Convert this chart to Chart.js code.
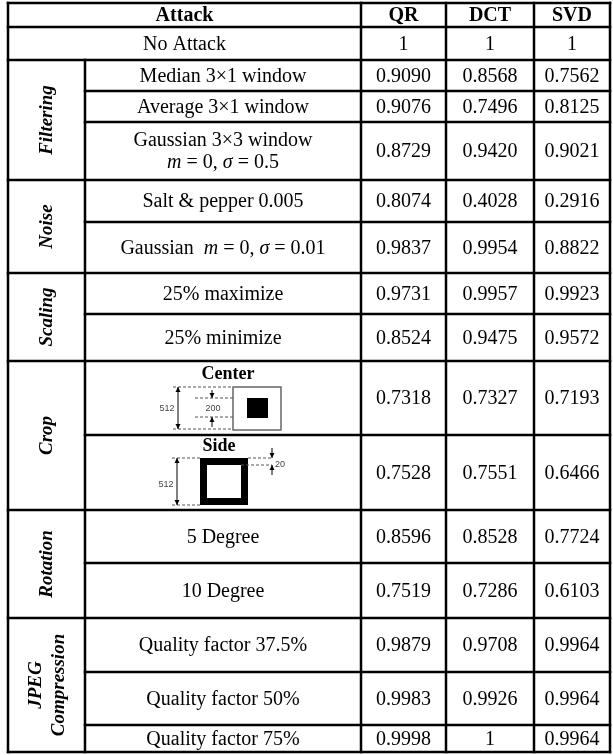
<!DOCTYPE html>
<html>
<head>
<meta charset="utf-8">
<script src="https://cdn.jsdelivr.net/npm/chart.js@4.4.0/dist/chart.umd.min.js"></script>
<style>
    html, body { margin: 0; padding: 0; background: #fff; }
    canvas { display: block; }
</style>
</head>
<body>
<canvas id="tableChart" width="613" height="755"></canvas>
<script>
// table data
const methods = ['QR', 'DCT', 'SVD'];
const groups = ['Filtering', 'Noise', 'Scaling', 'Crop', 'Rotation', 'JPEG|Compression'];
const groupSpans = [3, 2, 2, 2, 2, 3];
const attacks = [
    'No Attack',
    'Median 3×1 window',
    'Average 3×1 window',
    'Gaussian 3×3 window|*m* = 0, *σ* = 0.5',
    'Salt & pepper 0.005',
    'Gaussian  *m* = 0, *σ* = 0.01',
    '25% maximize',
    '25% minimize',
    'Center',
    'Side',
    '5 Degree',
    '10 Degree',
    'Quality factor 37.5%',
    'Quality factor 50%',
    'Quality factor 75%'
];
const qrValues  = [1, 0.9090, 0.9076, 0.8729, 0.8074, 0.9837, 0.9731, 0.8524, 0.7318, 0.7528, 0.8596, 0.7519, 0.9879, 0.9983, 0.9998];
const dctValues = [1, 0.8568, 0.7496, 0.9420, 0.4028, 0.9954, 0.9957, 0.9475, 0.7327, 0.7551, 0.8528, 0.7286, 0.9708, 0.9926, 1];
const svdValues = [1, 0.7562, 0.8125, 0.9021, 0.2916, 0.8822, 0.9923, 0.9572, 0.7193, 0.6466, 0.7724, 0.6103, 0.9964, 0.9964, 0.9964];

// grid layout (in scale units)
const colEdges = [8, 85, 361, 446, 534, 610];
const rowEdges = [3, 27, 60, 91, 122, 180, 222, 273, 314, 361, 435, 510, 563, 618, 672, 725, 752];

const SERIF = '"Liberation Serif", "Times New Roman", serif';

function fmt(v) {
    return v === 1 ? '1' : v.toFixed(4);
}

// draw text with *italic* parts, centred on cx
function richText(ctx, str, cx, cy, size) {
    const parts = str.split('*');
    let total = 0;
    const segs = parts.map((t, i) => {
        const font = (i % 2 ? 'italic ' : '') + size + 'px ' + SERIF;
        ctx.font = font;
        const w = ctx.measureText(t).width;
        total += w;
        return { t, font, w };
    });
    let x = cx - total / 2;
    ctx.textAlign = 'left';
    segs.forEach(s => {
        ctx.font = s.font;
        ctx.fillText(s.t, x, cy);
        x += s.w;
    });
}

function arrowHead(ctx, x, y, dir) {
    ctx.beginPath();
    ctx.moveTo(x, y);
    ctx.lineTo(x - 2.5, y - 5 * dir);
    ctx.lineTo(x + 2.5, y - 5 * dir);
    ctx.closePath();
    ctx.fill();
}

function vArrow(ctx, x, y1, y2, both) {
    ctx.setLineDash([]);
    ctx.lineWidth = 1;
    ctx.beginPath();
    ctx.moveTo(x, y1);
    ctx.lineTo(x, y2);
    ctx.stroke();
    arrowHead(ctx, x, y2, y2 > y1 ? 1 : -1);
    if (both) arrowHead(ctx, x, y1, y2 > y1 ? -1 : 1);
}

function dash(ctx, x1, x2, y) {
    ctx.setLineDash([3, 2]);
    ctx.lineWidth = 1;
    ctx.strokeStyle = '#555';
    ctx.beginPath();
    ctx.moveTo(x1, y);
    ctx.lineTo(x2, y);
    ctx.stroke();
    ctx.setLineDash([]);
    ctx.strokeStyle = '#000';
}

function smallLabel(ctx, t, x, y) {
    ctx.font = '9px "Liberation Sans", Arial, sans-serif';
    ctx.fillStyle = '#444';
    ctx.textAlign = 'center';
    ctx.fillText(t, x, y);
    ctx.fillStyle = '#000';
}

function drawCenterCrop(ctx, cx, top) {
    ctx.font = 'bold 18px ' + SERIF;
    ctx.textAlign = 'center';
    ctx.fillText('Center', cx + 5, top + 13);
    dash(ctx, cx - 50, cx + 10, top + 26);
    dash(ctx, cx - 50, cx + 10, top + 68);
    dash(ctx, cx - 28, cx + 10, top + 37);
    dash(ctx, cx - 28, cx + 10, top + 56);
    vArrow(ctx, cx - 45, top + 26, top + 68, true);
    vArrow(ctx, cx - 11, top + 29, top + 37, false);
    vArrow(ctx, cx - 11, top + 66, top + 56, false);
    smallLabel(ctx, '512', cx - 56, top + 48);
    smallLabel(ctx, '200', cx - 10, top + 48);
    ctx.strokeStyle = '#666';
    ctx.lineWidth = 1.5;
    ctx.strokeRect(cx + 10, top + 26, 48, 43);
    ctx.strokeStyle = '#000';
    ctx.fillRect(cx + 24, top + 37, 21, 20);
}

function drawSideCrop(ctx, cx, top) {
    ctx.font = 'bold 18px ' + SERIF;
    ctx.textAlign = 'center';
    ctx.fillText('Side', cx - 4, top + 11);
    ctx.fillRect(cx - 23, top + 23, 48, 47);
    ctx.fillStyle = '#fff';
    ctx.fillRect(cx - 16, top + 30, 34, 33);
    ctx.fillStyle = '#000';
    dash(ctx, cx - 51, cx - 23, top + 23);
    dash(ctx, cx - 51, cx - 23, top + 70);
    dash(ctx, cx + 25, cx + 49, top + 23);
    dash(ctx, cx + 18, cx + 49, top + 30);
    vArrow(ctx, cx - 46, top + 23, top + 70, true);
    vArrow(ctx, cx + 49, top + 13, top + 23, false);
    vArrow(ctx, cx + 49, top + 40, top + 30, false);
    smallLabel(ctx, '512', cx - 57, top + 50);
    smallLabel(ctx, '20', cx + 57, top + 30);
}

const tablePlugin = {
    id: 'tablePlugin',
    afterDraw(chart) {
        const ctx = chart.ctx;
        const xs = chart.scales.x, ys = chart.scales.y;
        const X = colEdges.map(v => xs.getPixelForValue(v));
        const Y = rowEdges.map(v => ys.getPixelForValue(v));
        const midY = i => (Y[i] + Y[i + 1]) / 2;
        const midX = (a, b) => (X[a] + X[b]) / 2;
        const columns = [qrValues, dctValues, svdValues];

        ctx.save();
        ctx.fillStyle = '#000';
        ctx.textBaseline = 'middle';

        // header
        ctx.font = 'bold 20px ' + SERIF;
        ctx.textAlign = 'center';
        ctx.fillText('Attack', midX(0, 2), midY(0) + 1);
        methods.forEach((m, j) => ctx.fillText(m, midX(2 + j, 3 + j), midY(0) + 1));

        // body rows
        attacks.forEach((a, i) => {
            const r = i + 1;
            const cy = midY(r) + 1;
            if (a === 'Center') {
                drawCenterCrop(ctx, midX(1, 2), Y[r]);
            } else if (a === 'Side') {
                drawSideCrop(ctx, midX(1, 2), Y[r]);
            } else {
                const lines = a.split('|');
                const cx = i === 0 ? midX(0, 2) : midX(1, 2);
                lines.forEach((ln, k) => {
                    richText(ctx, ln, cx, cy + (k - (lines.length - 1) / 2) * 22, 20);
                });
            }
            ctx.textBaseline = 'middle';
            ctx.textAlign = 'center';
            ctx.font = '20px ' + SERIF;
            columns.forEach((vals, j) => ctx.fillText(fmt(vals[i]), midX(2 + j, 3 + j), cy));
        });

        // group labels, rotated
        let start = 2;
        const groupStarts = [];
        groups.forEach((g, k) => {
            const end = start + groupSpans[k];
            groupStarts.push(start);
            const cy = (Y[start] + Y[end]) / 2;
            const lines = g.split('|');
            ctx.save();
            ctx.translate(midX(0, 1), cy);
            ctx.rotate(-Math.PI / 2);
            ctx.font = 'bold italic 19px ' + SERIF;
            ctx.textAlign = 'center';
            lines.forEach((ln, n) => ctx.fillText(ln, 0, (n - (lines.length - 1) / 2) * 23 + 1));
            ctx.restore();
            start = end;
        });

        // grid lines
        ctx.strokeStyle = '#000';
        ctx.lineWidth = 2.5;
        ctx.lineCap = 'square';
        const hLine = (y, x1, x2) => { ctx.beginPath(); ctx.moveTo(x1, y); ctx.lineTo(x2, y); ctx.stroke(); };
        const vLine = (x, y1, y2) => { ctx.beginPath(); ctx.moveTo(x, y1); ctx.lineTo(x, y2); ctx.stroke(); };
        const last = Y.length - 1;
        Y.forEach((y, r) => {
            const full = r <= 2 || r === last || groupStarts.includes(r);
            hLine(y, full ? X[0] : X[1], X[X.length - 1]);
        });
        vLine(X[0], Y[0], Y[last]);
        vLine(X[1], Y[2], Y[last]);
        for (let c = 2; c < X.length; c++) vLine(X[c], Y[0], Y[last]);

        ctx.restore();
    }
};

new Chart(document.getElementById('tableChart'), {
    type: 'scatter',
    data: { datasets: [] },
    options: {
        responsive: false,
        animation: false,
        devicePixelRatio: 1,
        layout: { padding: 0 },
        plugins: {
            legend: { display: false },
            tooltip: { enabled: false }
        },
        scales: {
            x: { type: 'linear', min: 0, max: 613, display: false },
            y: { type: 'linear', min: 0, max: 755, reverse: true, display: false }
        }
    },
    plugins: [tablePlugin]
});
</script>
</body>
</html>
